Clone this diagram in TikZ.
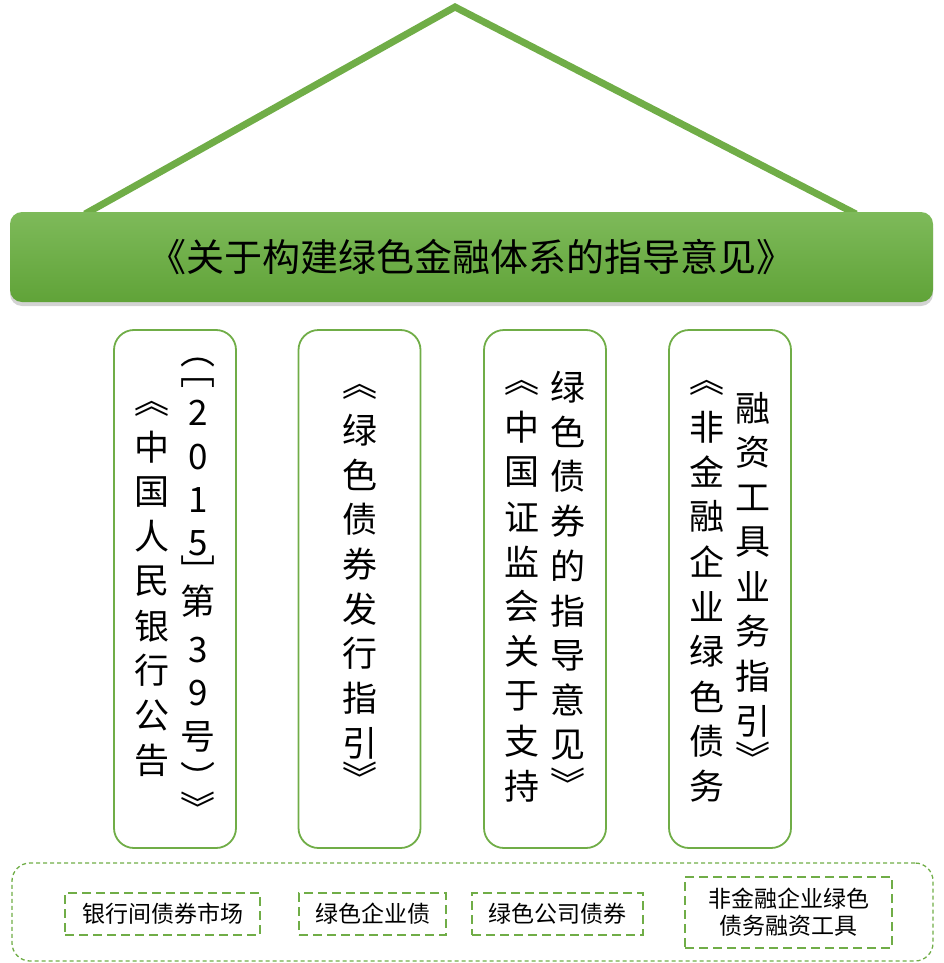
\documentclass[tikz,border=0pt]{standalone}
\usepackage{fontspec}
\newfontfamily\cjk{Noto Sans CJK SC}
\usetikzlibrary{shadows}

\definecolor{leafgreen}{RGB}{112,173,71}
\definecolor{bartop}{RGB}{126,186,90}
\definecolor{barbottom}{RGB}{96,163,56}

\tikzset{
	colbox/.style={draw=leafgreen, line width=1.8pt, rounded corners=20pt,
		minimum width=122pt, minimum height=518pt, inner sep=0pt},
	vchar/.style={font=\cjk\fontsize{35}{35}\selectfont, inner sep=0pt, anchor=center},
	tagbox/.style={draw=leafgreen, line width=2.6pt, dash pattern=on 9pt off 5pt,
		font=\cjk\fontsize{23}{27}\selectfont, align=center, inner sep=0pt},
}

\begin{document}
\begin{tikzpicture}[x=1pt,y=-1pt]
	\useasboundingbox (0,0) rectangle (944,963);
	% roof over the title bar
	\coordinate (apex) at (455,7);
	\coordinate (eaveL) at (85,214);
	\coordinate (eaveR) at (856,214);
	\draw[leafgreen, line width=7pt] (eaveL) -- (apex) -- (eaveR);
	% title bar
	\node (policy) [top color=bartop, bottom color=barbottom, rounded corners=12pt,
		minimum width=923pt, minimum height=90pt, inner sep=0pt,
		drop shadow={shadow xshift=0pt, shadow yshift=-4pt, opacity=0.35},
		font=\cjk\fontsize{38}{38}\selectfont] at (471.5,257)
		{《关于构建绿色金融体系的指导意见》};
	% four pillars
	\node (pbc) [colbox] at (175,589) {};
	\node (guide) [colbox] at (359.5,589) {};
	\node (csrc) [colbox] at (545,589) {};
	\node (nafmii) [colbox] at (730,589) {};
	% pillar 1
	\node[vchar] (pbcL0) at (152,409) {︽};
	\foreach \ch [count=\i] in {中,国,人,民,银,行,公,告} {
		\node[vchar] (pbcL\i) at (152,447+44.7*\i-44.7) {\ch};
	}
	\foreach \ch/\y [count=\i] in {︵/363,﹇/383,2/413,0/457,1/500,5/543,﹈/571,第/601,3/650,9/693,号/737,︶/777,︾/807} {
		\node[vchar] (pbcR\i) at (198,\y) {\ch};
	}
	% pillar 2
	\node[vchar] (guide0) at (360,392) {︽};
	\foreach \ch [count=\i] in {绿,色,债,券,发,行,指,引} {
		\node[vchar] (guide\i) at (360,430+44.7*\i-44.7) {\ch};
	}
	\node[vchar] (guide9) at (360,777) {︾};
	% pillar 3
	\node[vchar] (csrcL0) at (522,388) {︽};
	\foreach \ch [count=\i] in {中,国,证,监,会,关,于,支,持} {
		\node[vchar] (csrcL\i) at (522,427+44.9*\i-44.9) {\ch};
	}
	\foreach \ch [count=\i] in {绿,色,债,券,的,指,导,意,见} {
		\node[vchar] (csrcR\i) at (568,387+44.75*\i-44.75) {\ch};
	}
	\node[vchar] (csrcR10) at (568,783) {︾};
	% pillar 4
	\node[vchar] (nafmiiL0) at (707,388) {︽};
	\foreach \ch [count=\i] in {非,金,融,企,业,绿,色,债,务} {
		\node[vchar] (nafmiiL\i) at (707,427+44.9*\i-44.9) {\ch};
	}
	\foreach \ch [count=\i] in {融,资,工,具,业,务,指,引} {
		\node[vchar] (nafmiiR\i) at (753,408+44.7*\i-44.7) {\ch};
	}
	\node[vchar] (nafmiiR9) at (753,757) {︾};
	% markets strip
	\node (markets) [draw=leafgreen, line width=1.3pt, dash pattern=on 4pt off 3pt,
		rounded corners=18pt, minimum width=921pt, minimum height=98pt] at (472.5,912) {};
	\node (interbank) [tagbox, minimum width=195pt, minimum height=42pt] at (162.5,914) {银行间债券市场};
	\node (entbond) [tagbox, minimum width=147pt, minimum height=42pt] at (372.5,914) {绿色企业债};
	\node (corpbond) [tagbox, minimum width=171pt, minimum height=42pt] at (557.5,914) {绿色公司债券};
	\node (debtfin) [tagbox, minimum width=207pt, minimum height=71pt] at (788.5,912.5) {非金融企业绿色\\债务融资工具};
\end{tikzpicture}
\end{document}
